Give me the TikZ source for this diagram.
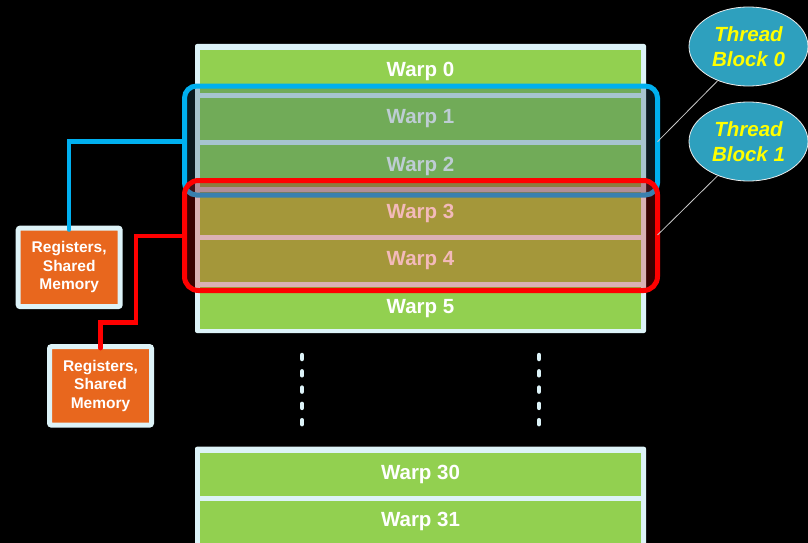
\documentclass[tikz,border=0pt]{standalone}
\usepackage{fontspec}
\setmainfont{Liberation Sans}
\usetikzlibrary{shapes.geometric}
\definecolor{stackbg}{RGB}{221,243,248}
\definecolor{warpgreen}{RGB}{146,208,80}
\definecolor{regorange}{RGB}{232,103,30}
\definecolor{tbteal}{RGB}{46,160,190}
\definecolor{tbyellow}{RGB}{255,255,0}
\definecolor{boxblue}{RGB}{0,176,240}
\definecolor{blueshade}{RGB}{34,83,110}
\definecolor{redshade}{RGB}{214,0,0}
\definecolor{calloutgray}{RGB}{200,200,200}
\tikzset{
  warp/.style={rectangle, fill=warpgreen, minimum width=441pt, minimum height=42.3pt,
    inner sep=0pt, text=white, font=\fontsize{20.5}{24}\selectfont\bfseries},
  regbox/.style={rectangle, rounded corners=2pt, fill=regorange, draw=stackbg, line width=5pt,
    minimum width=102pt, minimum height=78.5pt, inner sep=0pt, align=center, text=white,
    font=\fontsize{15.5}{18.5}\selectfont\bfseries},
  tbell/.style={ellipse, fill=tbteal, draw=white!85!gray, line width=0.8pt,
    minimum width=119pt, minimum height=79pt, inner sep=0pt, align=center, text=tbyellow,
    font=\fontsize{20.5}{25}\selectfont\bfseries\itshape},
  groupbox/.style={line width=5pt, fill opacity=#1},
  conn/.style={line width=4.5pt, line cap=round, shorten >=-4pt},
  dotline/.style={stackbg, line width=4.5pt, line cap=round, dash pattern=on 4pt off 12.3pt},
  callout/.style={calloutgray, line width=0.8pt}
}
\begin{document}
\begin{tikzpicture}[x=1pt,y=-1pt]
\useasboundingbox (0,0) rectangle (808,543);
\clip (0,0) rectangle (808,543);
\fill[black] (0,0) rectangle (808,543);
% upper warp stack
\fill[stackbg, rounded corners=2pt] (195,44) rectangle (646,333);
\node[warp, yshift=-1.5pt] (w0) at (420.5,70.15) {Warp 0};
\node[warp, yshift=-1.5pt] (w1) at (420.5,117.45) {Warp 1};
\node[warp, yshift=-1.5pt] (w2) at (420.5,164.75) {Warp 2};
\node[warp, yshift=-1.5pt] (w3) at (420.5,212.05) {Warp 3};
\node[warp, yshift=-1.5pt] (w4) at (420.5,259.35) {Warp 4};
\node[warp, yshift=-1.5pt] (w5) at (420.5,306.65) {Warp 5};
% lower warp stack
\fill[stackbg, rounded corners=2pt] (195,446.7) rectangle (646,560);
\node[warp, yshift=-1.5pt] (w30) at (420.5,472.85) {Warp 30};
\node[warp, yshift=-1.5pt] (w31) at (420.5,520.15) {Warp 31};
% dots
\draw[dotline] (302,355) -- (302,425);
\draw[dotline] (539,355) -- (539,425);
% thread block 0 group
\draw[groupbox=0.29, draw=boxblue, fill=blueshade, rounded corners=12pt] (184.5,86) rectangle (657.5,195);
\coordinate (bl) at (184.5,141.7);
\coordinate (br) at (657.5,141.7);
% thread block 1 group
\draw[groupbox=0.27, draw=red, fill=redshade, rounded corners=14pt] (184.5,180.5) rectangle (657.5,290.5);
\coordinate (rl) at (184.5,236);
\coordinate (rr) at (657.5,235);
\coordinate (rbend) at (136,322.7);
% register boxes
\node[regbox] (reg0) at (69.2,267.35) {Registers,\\Shared\\Memory};
\node[regbox] (reg1) at (100.5,385.85) {Registers,\\Shared\\Memory};
\draw[conn, boxblue] (bl) -| (reg0.north);
\draw[conn, red] (rl) -| (rbend) -| (reg1.north);
% thread block labels
\node[tbell] (tb0) at (748.5,46.5) {Thread\\Block 0};
\node[tbell] (tb1) at (748.5,141.5) {Thread\\Block 1};
\draw[callout] (tb0.228) -- (br);
\draw[callout] (tb1.228) -- (rr);
\end{tikzpicture}
\end{document}
